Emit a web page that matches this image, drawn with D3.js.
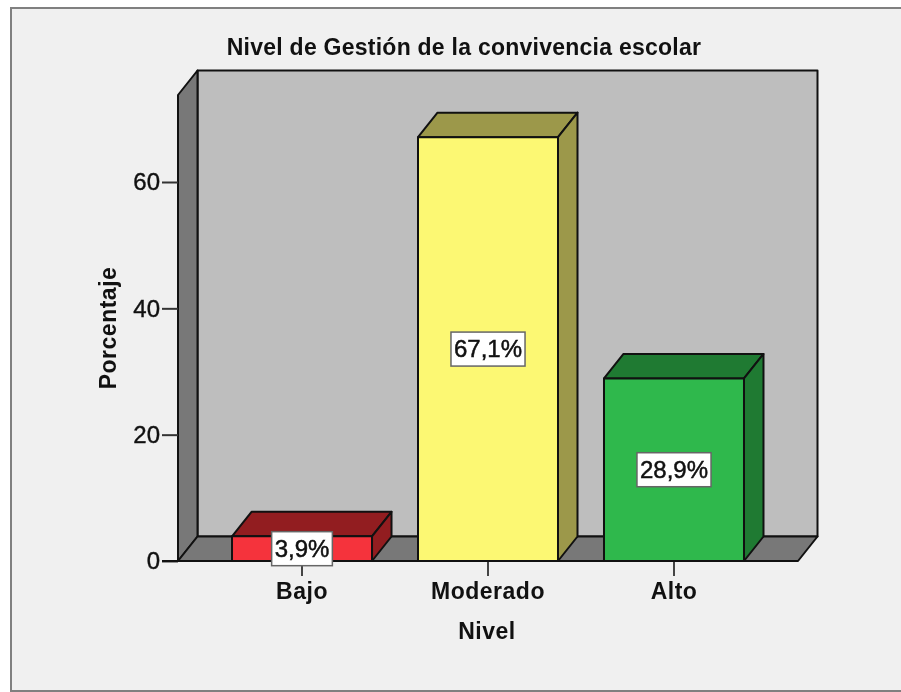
<!DOCTYPE html>
<html>
<head>
<meta charset="utf-8">
<title>Nivel de Gestión de la convivencia escolar</title>
<script src="https://d3js.org/d3.v7.min.js"></script>
<style>
 html, body { margin: 0; padding: 0; background: #fff; }
 svg { display: block; filter: blur(0.45px); }
 text { font-family: "Liberation Sans", Arial, sans-serif; fill: #111; }
 .axis-title { font-size: 23px; font-weight: bold; letter-spacing: 0.25px; }
 .cat { font-size: 23px; font-weight: bold; letter-spacing: 0.5px; }
 .val { font-size: 24px; stroke: #111; stroke-width: 0.4px; }
 .lab { font-size: 24px; stroke: #111; stroke-width: 0.5px; }
</style>
</head>
<body>
<script>
var categories = ["Bajo", "Moderado", "Alto"];
var values = [3.9, 67.1, 28.9];
var valueLabels = ["3,9%", "67,1%", "28,9%"];
var yTicks = [0, 20, 40, 60];
var frontColors = ["#f5333c", "#fcf873", "#2fb84c"];
var topColors = ["#921d20", "#9c984a", "#1f7a32"];
var title = "Nivel de Gestión de la convivencia escolar";
var xTitle = "Nivel";
var yTitle = "Porcentaje";

var w = 901, h = 692;
// depth of the fake 3d box
var dx = 19.5, dy = -24.5;

var svg = d3.select("body").append("svg").attr("width", w).attr("height", h);

svg.append("rect").attr("x", 11).attr("y", 8).attr("width", w).attr("height", 683)
   .attr("fill", "#f0f0f0").attr("stroke", "#808080").attr("stroke-width", 2);

var y = d3.scaleLinear().domain([0, 60]).range([561, 182]);
var x = d3.scaleBand().domain(categories).range([209, 767]).paddingInner(0.2473).paddingOuter(0.1237);

var left = 178, right = 798, bottom = y(0), top_ = 95;

function poly(pts, fill, sw) {
 return svg.append("polygon")
   .attr("points", pts.map(function(p) { return p.join(","); }).join(" "))
   .attr("fill", fill).attr("stroke", "#111").attr("stroke-width", sw || 2)
   .attr("stroke-linejoin", "round");
}

// walls
poly([[left+dx, top_+dy], [right+dx, top_+dy], [right+dx, bottom+dy], [left+dx, bottom+dy]], "#bebebe");
poly([[left, top_], [left+dx, top_+dy], [left+dx, bottom+dy], [left, bottom]], "#787878");
poly([[left, bottom], [left+dx, bottom+dy], [right+dx, bottom+dy], [right, bottom]], "#787878");

// y axis
var yAxis = d3.axisLeft(y).tickValues(yTicks).tickSize(16).tickSizeOuter(0).tickPadding(2);
var gy = svg.append("g").attr("transform", "translate(" + left + ",0)").call(yAxis);
gy.select(".domain").remove();
gy.selectAll(".tick line").attr("stroke", "#333").attr("stroke-width", 2);
gy.selectAll(".tick text").attr("class", "val").attr("fill", "#111");

// x axis line, slightly past the floor on the left
svg.append("line").attr("x1", 162).attr("x2", right).attr("y1", bottom).attr("y2", bottom)
   .attr("stroke", "#111").attr("stroke-width", 2);

var xAxis = d3.axisBottom(x).tickSize(15).tickSizeOuter(0).tickPadding(7);
var gx = svg.append("g").attr("transform", "translate(0," + bottom + ")").call(xAxis);
gx.select(".domain").remove();
gx.selectAll(".tick line").attr("stroke", "#444").attr("stroke-width", 2);
gx.selectAll(".tick text").attr("class", "cat").attr("fill", "#111");

// bars
categories.forEach(function(c, i) {
 var x0 = x(c), x1 = x0 + x.bandwidth(), yt = y(values[i]);
 poly([[x0, yt], [x0+dx, yt+dy], [x1+dx, yt+dy], [x1, yt]], topColors[i]);
 poly([[x1, yt], [x1+dx, yt+dy], [x1+dx, bottom+dy], [x1, bottom]], topColors[i]);
 poly([[x0, yt], [x1, yt], [x1, bottom], [x0, bottom]], frontColors[i]);
});

// value labels
categories.forEach(function(c, i) {
 var cx = x(c) + x.bandwidth() / 2, cy = (y(values[i]) + bottom) / 2;
 var g = svg.append("g");
 var t = g.append("text").attr("class", "lab").attr("x", cx).attr("y", cy + 8)
   .attr("text-anchor", "middle").text(valueLabels[i]);
 var bw = t.node().getComputedTextLength() + 6;
 g.insert("rect", "text").attr("x", cx - bw / 2).attr("y", cy - 17).attr("width", bw).attr("height", 34)
   .attr("fill", "#fff").attr("stroke", "#666").attr("stroke-width", 1.5);
});

// titles
svg.append("text").attr("class", "axis-title").attr("x", 464).attr("y", 55)
   .attr("text-anchor", "middle").text(title);
svg.append("text").attr("class", "cat").attr("x", 487).attr("y", 639)
   .attr("text-anchor", "middle").text(xTitle);
svg.append("text").attr("class", "cat")
   .attr("transform", "translate(116,328) rotate(-90)")
   .attr("text-anchor", "middle").text(yTitle);
</script>
</body>
</html>
